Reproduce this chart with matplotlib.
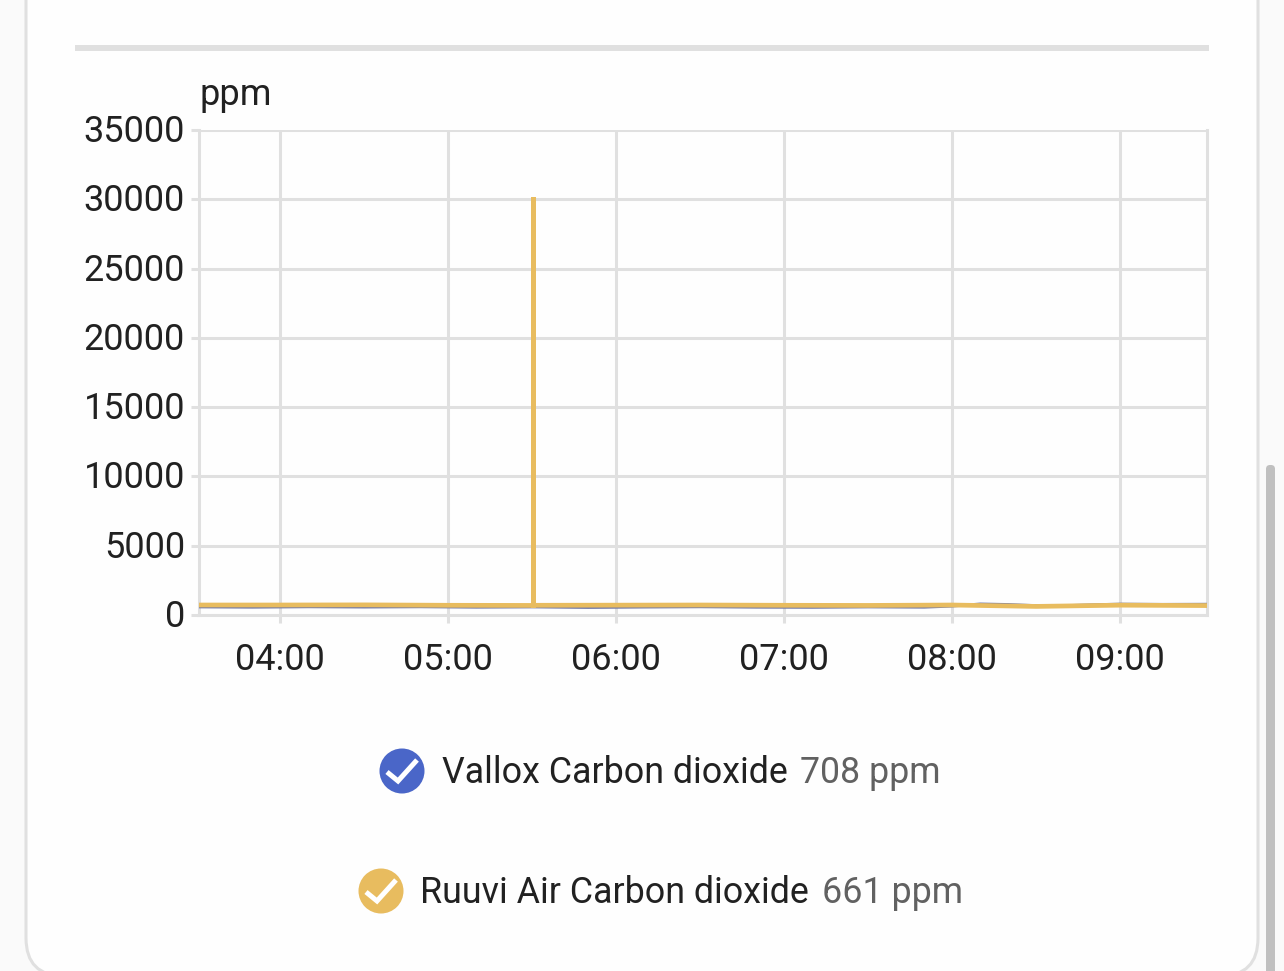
import matplotlib
matplotlib.use("Agg")
import matplotlib.pyplot as plt
import matplotlib.dates as mdates
import pandas as pd
from matplotlib.patches import FancyBboxPatch, Rectangle, Circle
from matplotlib.lines import Line2D

plt.rcParams['font.family'] = ['Roboto', 'DejaVu Sans']

# ---------- data ----------
unit = "ppm"
y_ticks = [0, 5000, 10000, 15000, 20000, 25000, 30000, 35000]
x_ticks = ["04:00", "05:00", "06:00", "07:00", "08:00", "09:00"]
x_range = ["03:31", "09:31"]

vallox_name = "Vallox Carbon dioxide"
vallox_now = "708 ppm"
vallox_times = ["03:31", "03:50", "04:10", "04:30", "04:50", "05:10", "05:30", "05:50", "06:10",
                "06:30", "06:50", "07:10", "07:30", "07:50", "08:00", "08:10", "08:20", "08:35",
                "08:50", "09:00", "09:15", "09:31"]
vallox_vals = [580, 560, 590, 570, 590, 560, 580, 540, 570, 590, 560, 550, 580, 560, 640, 800,
               760, 640, 740, 790, 770, 780]

ruuvi_name = "Ruuvi Air Carbon dioxide"
ruuvi_now = "661 ppm"
ruuvi_times = ["03:31", "04:00", "04:30", "05:00", "05:30:30", "05:30:30", "05:30:30", "06:00",
               "06:30", "07:00", "07:30", "08:00", "08:30", "09:00", "09:31"]
ruuvi_vals = [720, 720, 730, 700, 690, 30150, 700, 710, 720, 700, 690, 720, 620, 710, 680]

def tm(values):
    return mdates.date2num(pd.to_datetime(["2024-01-01 " + v for v in values], format="mixed"))

# ---------- page ----------
W, H = 1284, 971
fig = plt.figure(figsize=(W / 100, H / 100), dpi=100, facecolor="#fafafa")
GRID = "#e0e0e0"
BLUE = "#4a66c8"
YELLOW = "#e8bc5f"
VALLOX_LINE = "#6f78a8"

page = fig.add_axes([0, 0, 1, 1], zorder=0)
page.set_xlim(0, W)
page.set_ylim(H, 0)
page.axis("off")
page.add_patch(FancyBboxPatch((26, -80), 1232, 1056, boxstyle="round,pad=0,rounding_size=38",
                              fc="#fefefe", ec=GRID, lw=2.2))
page.add_patch(Rectangle((75, 45), 1134, 6, fc=GRID, ec="none"))
page.add_patch(FancyBboxPatch((1266, 465), 9, 520, boxstyle="round,pad=0,rounding_size=4",
                              fc="#c0c0c0", ec="none"))

# ---------- chart ----------
ax = fig.add_axes([199 / W, 1 - 615 / H, (1207 - 199) / W, (615 - 130) / H], zorder=1)
ax.patch.set_alpha(0)
ax.plot(tm(vallox_times), vallox_vals, color=VALLOX_LINE, lw=2.0, solid_capstyle="round", zorder=3)
ax.plot(tm(ruuvi_times), ruuvi_vals, color=YELLOW, lw=3.4, solid_joinstyle="miter", zorder=4)
ax.set_xlim(*tm(x_range))
ax.set_ylim(0, 35000)
ax.set_yticks(y_ticks)
ax.set_xticks(tm(x_ticks))
ax.set_xticklabels(x_ticks)
ax.grid(True, color=GRID, lw=2.2)
ax.set_axisbelow(True)
for name, s in ax.spines.items():
    s.set_color(GRID)
    s.set_linewidth(2.2)
ax.spines["top"].set_visible(False)
ax.tick_params(axis="both", color=GRID, width=2.2, length=6, labelsize=26, labelcolor="#212121")
ax.tick_params(axis="x", pad=13.5)
ax.tick_params(axis="y", pad=4)
for lab in ax.get_yticklabels():
    lab.set_verticalalignment("center")
    lab.set_y(lab.get_position()[1])
    lab.set_transform(lab.get_transform() + matplotlib.transforms.ScaledTranslation(0, -2 / 100, fig.dpi_scale_trans))

page.text(199.5, 95, unit, fontsize=26, color="#212121", va="center", ha="left")

# ---------- legend ----------
def legend_row(cx, cy, color, name, value, tx, vx):
    leg.add_patch(Circle((cx, cy), 22.5, fc=color, ec="none"))
    leg.add_line(Line2D([cx - 15, cx - 4, cx + 15], [cy + 1, cy + 10, cy - 11],
                        color="white", lw=3.6, solid_joinstyle="miter", solid_capstyle="butt"))
    leg.text(tx, cy + 2, name, fontsize=25.75, color="#212121", va="center", ha="left")
    leg.text(vx, cy + 2, value, fontsize=25.75, color="#616161", va="center", ha="left")

leg = fig.add_axes([0, 0, 1, 1], zorder=2)
leg.set_xlim(0, W)
leg.set_ylim(H, 0)
leg.axis("off")
legend_row(402, 771, BLUE, vallox_name, vallox_now, 441.5, 799.5)
legend_row(381, 891, YELLOW, ruuvi_name, ruuvi_now, 419.5, 821.5)

fig.savefig("out.png", dpi=100, facecolor=fig.get_facecolor())
